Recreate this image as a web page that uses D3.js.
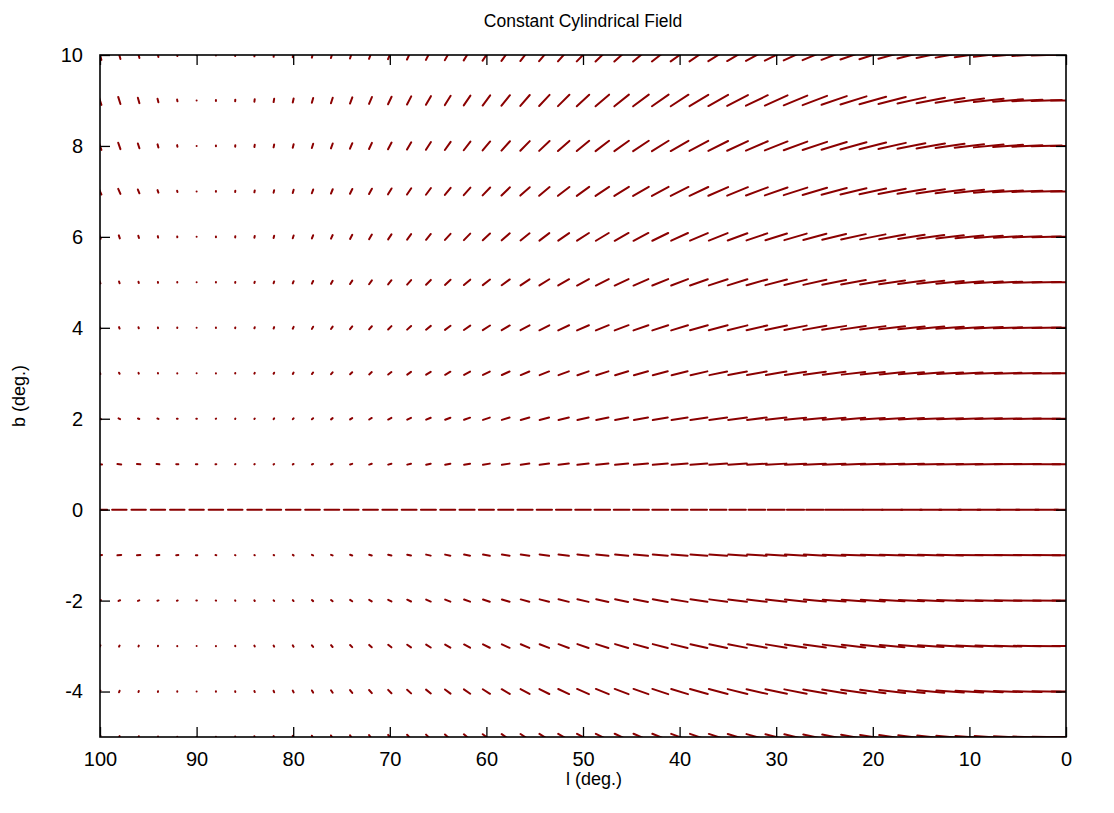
<!DOCTYPE html>
<html>
<head>
<meta charset="utf-8">
<title>Constant Cylindrical Field</title>
<script src="https://cdn.jsdelivr.net/npm/d3@7"></script>
<style>
  html, body { margin: 0; padding: 0; background: #fff; }
  svg { display: block; }
  text { font-family: "Liberation Sans", Arial, Helvetica, sans-serif; fill: #000; }
</style>
</head>
<body>
<script>
// Grid of sample positions (galactic longitude l, latitude b, in degrees)
const lonValues = [100,98,96,94,92,90,88,86,84,82,80,78,76,74,72,70,68,66,64,62,60,58,56,54,52,50,48,46,44,42,40,38,36,34,32,30,28,26,24,22,20,18,16,14,12,10,8,6,4,2,0];
const latValues = [10,9,8,7,6,5,4,3,2,1,0,-1,-2,-3,-4,-5];

// Axis tick labels
const lonTicks = [100,90,80,70,60,50,40,30,20,10,0];
const latTicks = [-4,-2,0,2,4,6,8,10];

// Projected field components on the sky, one row per latitude (same order as latValues).
// dLon: component along l (positive = towards smaller l); dLat: component along b.
const dLon = [
  /* b=10 */ [0.25,0.2,0.14,0.08,0.03,0,0,0.01,0.03,0.05,0.08,0.12,0.16,0.21,0.26,0.32,0.38,0.45,0.52,0.6,0.68,0.76,0.85,0.94,1.03,1.12,1.22,1.31,1.41,1.5,1.6,1.69,1.78,1.87,1.96,2.04,2.12,2.2,2.27,2.34,2.4,2.46,2.51,2.56,2.6,2.64,2.67,2.69,2.71,2.72,2.72],
  /* b=9 */  [0.25,0.2,0.14,0.08,0.03,0,0,0.01,0.03,0.05,0.08,0.12,0.16,0.21,0.26,0.32,0.38,0.45,0.52,0.6,0.68,0.76,0.85,0.94,1.03,1.12,1.22,1.31,1.41,1.5,1.6,1.69,1.78,1.87,1.96,2.04,2.12,2.2,2.27,2.34,2.4,2.46,2.51,2.56,2.6,2.64,2.67,2.69,2.71,2.72,2.72],
  /* b=8 */  [0.25,0.2,0.14,0.08,0.03,0,0,0.01,0.03,0.05,0.08,0.12,0.16,0.21,0.26,0.32,0.38,0.45,0.52,0.6,0.68,0.76,0.85,0.94,1.03,1.12,1.22,1.31,1.41,1.5,1.6,1.69,1.78,1.87,1.96,2.04,2.12,2.2,2.27,2.34,2.4,2.46,2.51,2.56,2.6,2.64,2.67,2.69,2.71,2.72,2.72],
  /* b=7 */  [0.25,0.2,0.14,0.08,0.03,0,0,0.01,0.03,0.05,0.08,0.12,0.16,0.21,0.26,0.32,0.38,0.45,0.52,0.6,0.68,0.76,0.85,0.94,1.03,1.12,1.22,1.31,1.41,1.5,1.6,1.69,1.78,1.87,1.96,2.04,2.12,2.2,2.27,2.34,2.4,2.46,2.51,2.56,2.6,2.64,2.67,2.69,2.71,2.72,2.72],
  /* b=6 */  [0.12,0.09,0.06,0.03,0.01,0,0,0.01,0.03,0.05,0.08,0.11,0.15,0.2,0.25,0.3,0.36,0.43,0.5,0.57,0.65,0.72,0.81,0.89,0.98,1.07,1.16,1.25,1.34,1.43,1.51,1.6,1.69,1.77,1.86,1.94,2.01,2.08,2.15,2.22,2.28,2.33,2.38,2.43,2.47,2.5,2.53,2.55,2.57,2.58,2.58],
  /* b=5 */  [0.08,0.05,0.03,0.01,0,0,0,0.01,0.03,0.05,0.08,0.11,0.15,0.2,0.25,0.3,0.36,0.43,0.5,0.57,0.65,0.72,0.81,0.89,0.98,1.07,1.16,1.25,1.34,1.43,1.51,1.6,1.69,1.77,1.86,1.94,2.01,2.08,2.15,2.22,2.28,2.33,2.38,2.43,2.47,2.5,2.53,2.55,2.57,2.58,2.58],
  /* b=4 */  [0.08,0.05,0.03,0.01,0,0,0,0.01,0.03,0.05,0.08,0.11,0.15,0.2,0.25,0.3,0.36,0.43,0.5,0.57,0.65,0.72,0.81,0.89,0.98,1.07,1.16,1.25,1.34,1.43,1.51,1.6,1.69,1.77,1.86,1.94,2.01,2.08,2.15,2.22,2.28,2.33,2.38,2.43,2.47,2.5,2.53,2.55,2.57,2.58,2.58],
  /* b=3 */  [0.07,0.05,0.03,0.01,0,0,0,0.01,0.03,0.05,0.07,0.11,0.14,0.19,0.23,0.29,0.34,0.41,0.47,0.54,0.61,0.69,0.77,0.85,0.93,1.01,1.1,1.18,1.27,1.35,1.44,1.52,1.6,1.68,1.76,1.84,1.91,1.98,2.05,2.11,2.16,2.22,2.26,2.31,2.34,2.38,2.4,2.42,2.44,2.45,2.45],
  /* b=2 */  [0.16,0.14,0.12,0.1,0.07,0.05,0.03,0.02,0.03,0.05,0.07,0.11,0.14,0.19,0.23,0.29,0.34,0.41,0.47,0.54,0.61,0.69,0.77,0.85,0.93,1.01,1.1,1.18,1.27,1.35,1.44,1.52,1.6,1.68,1.76,1.84,1.91,1.98,2.05,2.11,2.16,2.22,2.26,2.31,2.34,2.38,2.4,2.42,2.44,2.45,2.45],
  /* b=1 */  [0.36,0.34,0.3,0.25,0.19,0.13,0.07,0.03,0.03,0.05,0.07,0.11,0.14,0.19,0.23,0.29,0.34,0.41,0.47,0.54,0.61,0.69,0.77,0.85,0.93,1.01,1.1,1.18,1.27,1.35,1.44,1.52,1.6,1.68,1.76,1.84,1.91,1.98,2.05,2.11,2.16,2.22,2.26,2.31,2.34,2.38,2.4,2.42,2.44,2.45,2.45],
  /* b=0 */  [1.3,1.3,1.3,1.3,1.3,1.3,1.31,1.31,1.31,1.32,1.32,1.32,1.33,1.33,1.34,1.34,1.34,1.35,1.35,1.36,1.36,1.37,1.37,1.38,1.39,1.4,1.41,1.42,1.43,1.43,1.44,1.46,1.48,1.5,1.51,1.53,1.55,1.57,1.62,1.7,1.77,1.83,1.87,1.91,1.95,1.98,2.01,2.03,2.05,2.07,2.09],
  /* b=-1 */ [0.36,0.34,0.3,0.25,0.19,0.13,0.07,0.03,0.03,0.05,0.07,0.11,0.14,0.19,0.23,0.29,0.34,0.41,0.47,0.54,0.61,0.69,0.77,0.85,0.93,1.01,1.1,1.18,1.27,1.35,1.44,1.52,1.6,1.68,1.76,1.84,1.91,1.98,2.05,2.11,2.16,2.22,2.26,2.31,2.34,2.38,2.4,2.42,2.44,2.45,2.45],
  /* b=-2 */ [0.16,0.14,0.12,0.1,0.07,0.05,0.03,0.02,0.03,0.05,0.07,0.11,0.14,0.19,0.23,0.29,0.34,0.41,0.47,0.54,0.61,0.69,0.77,0.85,0.93,1.01,1.1,1.18,1.27,1.35,1.44,1.52,1.6,1.68,1.76,1.84,1.91,1.98,2.05,2.11,2.16,2.22,2.26,2.31,2.34,2.38,2.4,2.42,2.44,2.45,2.45],
  /* b=-3 */ [0.07,0.05,0.03,0.01,0,0,0,0.01,0.03,0.05,0.07,0.11,0.14,0.19,0.23,0.29,0.34,0.41,0.47,0.54,0.61,0.69,0.77,0.85,0.93,1.01,1.1,1.18,1.27,1.35,1.44,1.52,1.6,1.68,1.76,1.84,1.91,1.98,2.05,2.11,2.16,2.22,2.26,2.31,2.34,2.38,2.4,2.42,2.44,2.45,2.45],
  /* b=-4 */ [0.08,0.05,0.03,0.01,0,0,0,0.01,0.03,0.05,0.08,0.11,0.15,0.2,0.25,0.3,0.36,0.43,0.5,0.57,0.65,0.72,0.81,0.89,0.98,1.07,1.16,1.25,1.34,1.43,1.51,1.6,1.69,1.77,1.86,1.94,2.01,2.08,2.15,2.22,2.28,2.33,2.38,2.43,2.47,2.5,2.53,2.55,2.57,2.58,2.58],
  /* b=-5 */ [0.08,0.05,0.03,0.01,0,0,0,0.01,0.03,0.05,0.08,0.11,0.15,0.2,0.25,0.3,0.36,0.43,0.5,0.57,0.65,0.72,0.81,0.89,0.98,1.07,1.16,1.25,1.34,1.43,1.51,1.6,1.69,1.77,1.86,1.94,2.01,2.08,2.15,2.22,2.28,2.33,2.38,2.43,2.47,2.5,2.53,2.55,2.57,2.58,2.58]
];

const dLat = [
  /* b=10 */ [-0.187,-0.151,-0.114,-0.076,-0.038,0,0.017,0.035,0.052,0.069,0.085,0.101,0.117,0.132,0.146,0.16,0.173,0.185,0.196,0.206,0.216,0.224,0.231,0.237,0.242,0.245,0.248,0.249,0.249,0.248,0.245,0.242,0.237,0.231,0.224,0.216,0.206,0.196,0.185,0.173,0.16,0.146,0.132,0.117,0.101,0.085,0.069,0.052,0.035,0.017,0],
  /* b=9 */  [-0.169,-0.136,-0.103,-0.068,-0.034,0,0.016,0.031,0.047,0.062,0.077,0.091,0.105,0.119,0.132,0.144,0.156,0.166,0.177,0.186,0.194,0.201,0.208,0.213,0.217,0.221,0.223,0.224,0.224,0.223,0.221,0.217,0.213,0.208,0.201,0.194,0.186,0.177,0.166,0.156,0.144,0.132,0.119,0.105,0.091,0.077,0.062,0.047,0.031,0.016,0],
  /* b=8 */  [-0.15,-0.121,-0.091,-0.061,-0.031,0,0.014,0.028,0.041,0.055,0.068,0.081,0.094,0.106,0.117,0.128,0.138,0.148,0.157,0.165,0.172,0.179,0.185,0.189,0.193,0.196,0.198,0.199,0.199,0.198,0.196,0.193,0.189,0.185,0.179,0.172,0.165,0.157,0.148,0.138,0.128,0.117,0.106,0.094,0.081,0.068,0.055,0.041,0.028,0.014,0],
  /* b=7 */  [-0.119,-0.096,-0.072,-0.048,-0.024,0,0.012,0.024,0.036,0.048,0.06,0.071,0.082,0.092,0.102,0.112,0.121,0.129,0.137,0.144,0.151,0.156,0.161,0.166,0.169,0.171,0.173,0.174,0.174,0.173,0.171,0.169,0.166,0.161,0.156,0.151,0.144,0.137,0.129,0.121,0.112,0.102,0.092,0.082,0.071,0.06,0.048,0.036,0.024,0.012,0],
  /* b=6 */  [-0.07,-0.057,-0.043,-0.029,-0.014,0,0.01,0.021,0.031,0.041,0.051,0.061,0.07,0.079,0.088,0.096,0.104,0.111,0.117,0.124,0.129,0.134,0.138,0.142,0.145,0.147,0.148,0.149,0.149,0.148,0.147,0.145,0.142,0.138,0.134,0.129,0.124,0.117,0.111,0.104,0.096,0.088,0.079,0.07,0.061,0.051,0.041,0.031,0.021,0.01,0],
  /* b=5 */  [-0.042,-0.034,-0.026,-0.017,-0.009,0,0.009,0.017,0.026,0.034,0.042,0.05,0.058,0.066,0.073,0.08,0.086,0.092,0.098,0.103,0.107,0.111,0.115,0.118,0.12,0.122,0.123,0.124,0.124,0.123,0.122,0.12,0.118,0.115,0.111,0.107,0.103,0.098,0.092,0.086,0.08,0.073,0.066,0.058,0.05,0.042,0.034,0.026,0.017,0.009,0],
  /* b=4 */  [-0.034,-0.028,-0.021,-0.014,-0.007,0,0.007,0.014,0.021,0.028,0.034,0.041,0.047,0.053,0.059,0.064,0.07,0.074,0.079,0.083,0.087,0.09,0.093,0.095,0.097,0.099,0.1,0.1,0.1,0.1,0.099,0.097,0.095,0.093,0.09,0.087,0.083,0.079,0.074,0.07,0.064,0.059,0.053,0.047,0.041,0.034,0.028,0.021,0.014,0.007,0],
  /* b=3 */  [-0.026,-0.021,-0.016,-0.01,-0.005,0,0.005,0.01,0.016,0.021,0.026,0.03,0.035,0.04,0.044,0.048,0.052,0.055,0.059,0.062,0.065,0.067,0.069,0.071,0.072,0.074,0.074,0.075,0.075,0.074,0.074,0.072,0.071,0.069,0.067,0.065,0.062,0.059,0.055,0.052,0.048,0.044,0.04,0.035,0.03,0.026,0.021,0.016,0.01,0.005,0],
  /* b=2 */  [-0.017,-0.014,-0.01,-0.007,-0.003,0,0.003,0.007,0.01,0.014,0.017,0.02,0.023,0.026,0.029,0.032,0.035,0.037,0.039,0.041,0.043,0.045,0.046,0.047,0.048,0.049,0.05,0.05,0.05,0.05,0.049,0.048,0.047,0.046,0.045,0.043,0.041,0.039,0.037,0.035,0.032,0.029,0.026,0.023,0.02,0.017,0.014,0.01,0.007,0.003,0],
  /* b=1 */  [-0.009,-0.007,-0.005,-0.004,-0.002,0,0.002,0.004,0.005,0.007,0.009,0.01,0.012,0.013,0.015,0.016,0.017,0.019,0.02,0.021,0.022,0.022,0.023,0.024,0.024,0.025,0.025,0.025,0.025,0.025,0.025,0.024,0.024,0.023,0.022,0.022,0.021,0.02,0.019,0.017,0.016,0.015,0.013,0.012,0.01,0.009,0.007,0.005,0.004,0.002,0],
  /* b=0 */  [0,0,0,0,0,0,0,0,0,0,0,0,0,0,0,0,0,0,0,0,0,0,0,0,0,0,0,0,0,0,0,0,0,0,0,0,0,0,0,0,0,0,0,0,0,0,0,0,0,0,0],
  /* b=-1 */ [0.009,0.007,0.005,0.004,0.002,0,-0.002,-0.004,-0.005,-0.007,-0.009,-0.01,-0.012,-0.013,-0.015,-0.016,-0.017,-0.019,-0.02,-0.021,-0.022,-0.022,-0.023,-0.024,-0.024,-0.025,-0.025,-0.025,-0.025,-0.025,-0.025,-0.024,-0.024,-0.023,-0.022,-0.022,-0.021,-0.02,-0.019,-0.017,-0.016,-0.015,-0.013,-0.012,-0.01,-0.009,-0.007,-0.005,-0.004,-0.002,0],
  /* b=-2 */ [0.017,0.014,0.01,0.007,0.003,0,-0.003,-0.007,-0.01,-0.014,-0.017,-0.02,-0.023,-0.026,-0.029,-0.032,-0.035,-0.037,-0.039,-0.041,-0.043,-0.045,-0.046,-0.047,-0.048,-0.049,-0.05,-0.05,-0.05,-0.05,-0.049,-0.048,-0.047,-0.046,-0.045,-0.043,-0.041,-0.039,-0.037,-0.035,-0.032,-0.029,-0.026,-0.023,-0.02,-0.017,-0.014,-0.01,-0.007,-0.003,0],
  /* b=-3 */ [0.026,0.021,0.016,0.01,0.005,0,-0.005,-0.01,-0.016,-0.021,-0.026,-0.03,-0.035,-0.04,-0.044,-0.048,-0.052,-0.055,-0.059,-0.062,-0.065,-0.067,-0.069,-0.071,-0.072,-0.074,-0.074,-0.075,-0.075,-0.074,-0.074,-0.072,-0.071,-0.069,-0.067,-0.065,-0.062,-0.059,-0.055,-0.052,-0.048,-0.044,-0.04,-0.035,-0.03,-0.026,-0.021,-0.016,-0.01,-0.005,0],
  /* b=-4 */ [0.034,0.028,0.021,0.014,0.007,0,-0.007,-0.014,-0.021,-0.028,-0.034,-0.041,-0.047,-0.053,-0.059,-0.064,-0.07,-0.074,-0.079,-0.083,-0.087,-0.09,-0.093,-0.095,-0.097,-0.099,-0.1,-0.1,-0.1,-0.1,-0.099,-0.097,-0.095,-0.093,-0.09,-0.087,-0.083,-0.079,-0.074,-0.07,-0.064,-0.059,-0.053,-0.047,-0.041,-0.034,-0.028,-0.021,-0.014,-0.007,0],
  /* b=-5 */ [0.042,0.034,0.026,0.017,0.009,0,-0.009,-0.017,-0.026,-0.034,-0.042,-0.05,-0.058,-0.066,-0.073,-0.08,-0.086,-0.092,-0.098,-0.103,-0.107,-0.111,-0.115,-0.118,-0.12,-0.122,-0.123,-0.124,-0.124,-0.123,-0.122,-0.12,-0.118,-0.115,-0.111,-0.107,-0.103,-0.098,-0.092,-0.086,-0.08,-0.073,-0.066,-0.058,-0.05,-0.042,-0.034,-0.026,-0.017,-0.009,0]
];

const width = 1114, height = 813;
const margin = { left: 100, right: 48, top: 55, bottom: 76 };
const plotW = width - margin.left - margin.right;
const plotH = height - margin.top - margin.bottom;

// Length multiplier applied to every field vector when it is drawn
const vectorScale = 1.15;

const svg = d3.select("body").append("svg")
  .attr("width", width).attr("height", height);

svg.append("rect").attr("width", width).attr("height", height).attr("fill", "#fff");

// Longitude runs right-to-left, as usual for galactic maps
const x = d3.scaleLinear().domain([100, 0]).range([margin.left, margin.left + plotW]);
const y = d3.scaleLinear().domain([-5, 10]).range([margin.top + plotH, margin.top]);

svg.append("defs").append("clipPath").attr("id", "plot-clip")
  .append("rect")
  .attr("x", margin.left).attr("y", margin.top)
  .attr("width", plotW).attr("height", plotH);

// Field vectors, each centred on its grid point
const vectors = [];
latValues.forEach((b, i) => {
  lonValues.forEach((l, j) => {
    vectors.push({ l, b, dl: dLon[i][j] * vectorScale, db: dLat[i][j] * vectorScale });
  });
});

svg.append("g")
  .attr("clip-path", "url(#plot-clip)")
  .selectAll("line")
  .data(vectors)
  .join("line")
  .attr("x1", d => x(d.l + d.dl / 2))
  .attr("x2", d => x(d.l - d.dl / 2))
  .attr("y1", d => y(d.b - d.db / 2))
  .attr("y2", d => y(d.b + d.db / 2))
  .attr("stroke", "#8b0000")
  .attr("stroke-width", 2)
  .attr("stroke-linecap", "round");

// Axes: ticks point inwards and are mirrored on the opposite sides
const tickLen = 10;
const axisFont = 20;
const plainNumber = d => String(d);

const gBottom = svg.append("g")
  .attr("transform", `translate(0,${margin.top + plotH})`)
  .call(d3.axisBottom(x).tickValues(lonTicks).tickFormat(plainNumber)
    .tickSizeInner(-tickLen).tickSizeOuter(0).tickPadding(15));
const gTop = svg.append("g")
  .attr("transform", `translate(0,${margin.top})`)
  .call(d3.axisTop(x).tickValues(lonTicks).tickSizeInner(-tickLen).tickSizeOuter(0).tickFormat(""));
const gLeft = svg.append("g")
  .attr("transform", `translate(${margin.left},0)`)
  .call(d3.axisLeft(y).tickValues(latTicks).tickFormat(plainNumber)
    .tickSizeInner(-tickLen).tickSizeOuter(0).tickPadding(17));
const gRight = svg.append("g")
  .attr("transform", `translate(${margin.left + plotW},0)`)
  .call(d3.axisRight(y).tickValues(latTicks).tickSizeInner(-tickLen).tickSizeOuter(0).tickFormat(""));

[gBottom, gTop, gLeft, gRight].forEach(g => {
  g.select(".domain").remove();
  g.selectAll(".tick line").attr("stroke", "#000").attr("stroke-width", 1.3);
  g.selectAll(".tick text")
    .attr("font-family", "'Liberation Sans', Arial, Helvetica, sans-serif")
    .attr("font-size", axisFont)
    .attr("fill", "#000");
});

// Plot frame
svg.append("rect")
  .attr("x", margin.left).attr("y", margin.top)
  .attr("width", plotW).attr("height", plotH)
  .attr("fill", "none").attr("stroke", "#000").attr("stroke-width", 1.6);

// Title and axis labels
svg.append("text")
  .attr("x", margin.left + plotW / 2).attr("y", 27)
  .attr("text-anchor", "middle").attr("font-size", 17.5)
  .text("Constant Cylindrical Field");

svg.append("text")
  .attr("x", 594).attr("y", 785)
  .attr("text-anchor", "middle").attr("font-size", 18)
  .text("l (deg.)");

svg.append("text")
  .attr("transform", `translate(25,${margin.top + plotH / 2}) rotate(-90)`)
  .attr("text-anchor", "middle").attr("font-size", 18)
  .text("b (deg.)");
</script>
</body>
</html>
